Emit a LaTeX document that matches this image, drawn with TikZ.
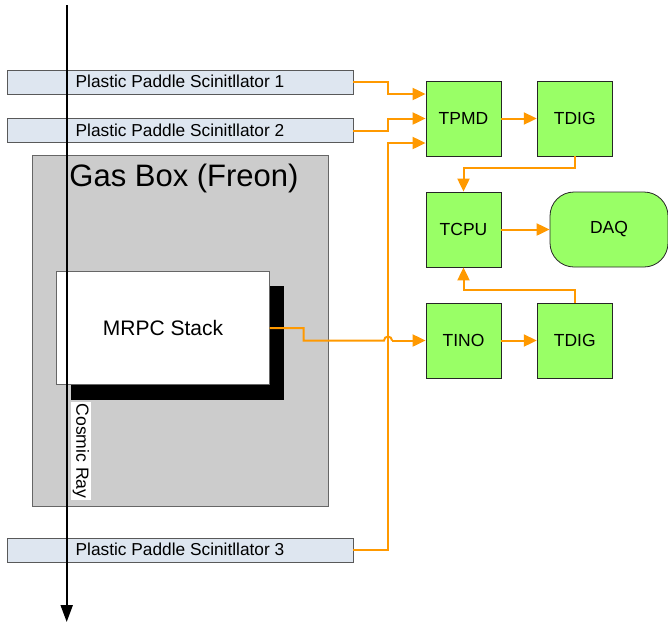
\documentclass[tikz,border=0pt]{standalone}
\usepackage{fontspec}
\setmainfont{Liberation Sans}
\usetikzlibrary{arrows.meta}
\definecolor{orng}{RGB}{255,153,0}
\definecolor{grn}{RGB}{153,255,102}
\definecolor{pad}{RGB}{222,230,240}
\definecolor{gasc}{RGB}{204,204,204}
\newcommand\myfs[1]{\fontsize{#1}{#1}\selectfont}
\begin{document}
\begin{tikzpicture}[x=1pt,y=-1pt,
  paddle/.style={draw=black!65, fill=pad, minimum width=346pt, minimum height=24pt, inner sep=0pt, line width=0.8pt, font=\myfs{17.3}, text depth=1.5pt},
  unit/.style={draw=black!85, fill=grn, minimum width=75pt, minimum height=75pt, inner sep=0pt, line width=0.8pt, font=\myfs{17.5}},
  conn/.style={orng, line width=2pt, -{Triangle[length=13pt,width=12pt]}},
  wire/.style={orng, line width=2pt}]
\useasboundingbox (0,0) rectangle (668,625);
% gas box
\node[draw=black!60, fill=gasc, minimum width=296pt, minimum height=351pt, line width=0.8pt] (gas) at (180,330.5) {};
\node[font=\myfs{31}, anchor=base, inner sep=0pt] (gaslbl) at (184,186.5) {Gas Box (Freon)};
% MRPC
\fill[black] (71,286) rectangle (284,400);
\node[draw=black!60, fill=white, minimum width=212.5pt, minimum height=113pt, line width=0.8pt, font=\myfs{21}] (mrpc) at (163,328) {MRPC Stack};
% paddles
\node[paddle] (p1) at (180,82) {Plastic Paddle Scinitllator 1};
\node[paddle] (p2) at (180,130.5) {Plastic Paddle Scinitllator 2};
\node[paddle] (p3) at (180,550) {Plastic Paddle Scinitllator 3};
% cosmic ray
\coordinate (crtop) at (66.7,5);
\coordinate (crbot) at (66.7,622);
\draw[line width=2pt, -{Triangle[length=17pt,width=12pt]}] (crtop) -- (crbot);
\node[rotate=-90, fill=white, inner sep=1.5pt, font=\myfs{17.6}] (crl) at (81,451) {Cosmic Ray};
% electronics
\node[unit] (tpmd) at (463.5,118.5) {TPMD};
\node[unit] (tdig1) at (574.7,118.5) {TDIG};
\node[unit] (tcpu) at (463.5,229.5) {TCPU};
\node[unit, rounded corners=24pt, minimum width=118pt] (daq) at (609,229.5) {DAQ};
\node[unit] (tino) at (463.5,340.5) {TINO};
\node[unit] (tdig2) at (574.7,340.5) {TDIG};
% connectors
\draw[conn] (p1.east) -- ++(35,0) |- ([yshift=24.5pt]tpmd.west);
\draw[conn] (p2.east) -- ++(35,0) |- (tpmd.west);
\draw[conn] (p3.east) -- ++(35,0) |- ([yshift=-24.5pt]tpmd.west);
\draw[conn] (tpmd) -- (tdig1);
\draw[conn] (tdig1.south) -- ++(0,12) -| (tcpu.north);
\draw[conn] (tdig2.north) -- ++(0,-13) -| (tcpu.south);
\draw[conn] (tcpu) -- (daq);
\draw[conn] (tino) -- (tdig2);
\coordinate (hopL) at (384,340.5);
\draw[wire] (mrpc.east) -- ++(34,0) |- (hopL) arc[start angle=180, end angle=0, radius=4pt];
\coordinate (hopR) at (392,340.5);
\draw[conn] (hopR) -- (tino.west);
\end{tikzpicture}
\end{document}
